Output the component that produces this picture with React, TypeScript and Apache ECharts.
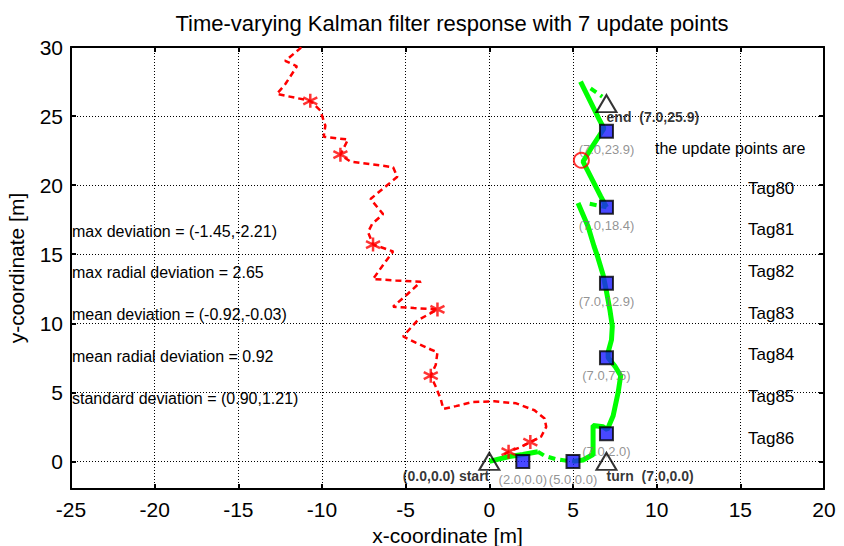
import React, { useEffect, useRef } from "react";
import * as echarts from "echarts";

const FONT = "Liberation Sans, Arial, sans-serif";

const titleText = "Time-varying Kalman filter response with 7 update points";
const xAxisName = "x-coordinate [m]";
const yAxisName = "y-coordinate [m]";

// estimated track (solid green segments)
const greenSolidA = [[0, 0], [1.2, 0.35], [2.0, 0.5], [2.9, 0.7]];
const greenSolidB = [
  [5, 0], [5.6, 0.1], [6.2, 0.5], [6.2, 2.6], [6.8, 2.5], [7.05, 2.3], [7.4, 3.3],
  [7.7, 5.0], [7.85, 6.2], [7.5, 6.9], [7.1, 7.5], [7.1, 7.9], [7.3, 8.8], [7.35, 9.8],
  [7.2, 11.0], [7.0, 12.3], [6.8, 13.5], [6.45, 14.9], [6.25, 15.6], [5.9, 17.0], [5.3, 18.7],
];
const greenSolidC = [[7.0, 18.4], [6.65, 19.2], [5.6, 21.7], [6.05, 22.6], [6.85, 24.1], [6.55, 24.8], [5.45, 27.5]];
// dashed green bits
const greenDashA = [[2.9, 0.7], [3.3, 0.4], [4.0, 0.15], [5.0, 0]];
const greenDashB = [[6.0, 18.65], [7.0, 18.4]];
const greenDashC = [[6.05, 27.0], [6.75, 26.4]];

// dead-reckoning track (red dashed)
const redTrack = [
  [0.9, 0.5], [1.15, 0.7], [1.8, 1.0], [2.45, 1.4], [3.1, 1.8], [3.4, 2.5], [3.3, 3.1],
  [2.7, 3.7], [1.6, 4.2], [0.3, 4.35], [-1.0, 4.3], [-2.0, 4.0], [-2.75, 3.8], [-2.9, 4.5],
  [-3.2, 5.4], [-3.5, 6.2], [-3.2, 7.0], [-3.1, 7.9], [-3.5, 8.1], [-4.4, 8.6], [-5.15, 9.05],
  [-4.3, 10.2], [-3.1, 11.0], [-4.5, 11.1], [-5.75, 11.2], [-4.9, 12.1], [-4.1, 13.0],
  [-5.6, 13.1], [-6.95, 13.2], [-6.3, 14.3], [-5.75, 15.2], [-6.95, 15.7], [-7.25, 16.6],
  [-7.0, 17.2], [-6.35, 17.9], [-7.1, 19.0], [-6.2, 19.9], [-5.5, 20.6], [-5.75, 21.3],
  [-7.0, 21.5], [-8.3, 21.7], [-8.9, 22.2], [-8.45, 23.3], [-9.9, 23.5], [-9.8, 24.3],
  [-10.1, 25.4], [-10.7, 26.1], [-12.7, 26.6], [-12.2, 27.3], [-11.5, 28.6], [-12.2, 29.0],
  [-11.3, 29.9], [-11.0, 30.5],
];
const redStars = [[1.15, 0.7], [2.45, 1.4], [-3.5, 6.2], [-3.1, 11.0], [-6.95, 15.7], [-8.9, 22.2], [-10.7, 26.1]];

const updatePoints = [[2, 0], [5, 0], [7, 2], [7, 7.5], [7, 12.9], [7, 18.4], [7, 23.9]];
const updateLabels = ["(2.0,0.0)", "(5.0,0.0)", "(7.0,2.0)", "(7.0,7.5)", "(7.0,12.9)", "(7.0,18.4)", "(7.0,23.9)"];

const keyPoints = [[0, 0], [7, 0], [7, 25.9]];
const keyLabels = ["(0.0,0.0) start", "turn  (7.0,0.0)", "end  (7.0,25.9)"];

const redCircle = [[5.5, 21.8]];

const statsTexts = [
  "max deviation = (-1.45,-2.21)",
  "max radial deviation = 2.65",
  "mean deviation = (-0.92,-0.03)",
  "mean radial deviation = 0.92",
  "standard deviation = (0.90,1.21)",
];
const tagHeader = "the update points are";
const tagNames = ["Tag80", "Tag81", "Tag82", "Tag83", "Tag84", "Tag85", "Tag86"];

const asterisk = "path://M0,-10L0,10M-8.7,-5L8.7,5M-8.7,5L8.7,-5";

export default function App() {
  const ref = useRef<HTMLDivElement>(null);
  useEffect(() => {
    if (!ref.current) return;
    const chart = echarts.init(ref.current, null, { renderer: "svg" });

    const greenLine = (data: number[][], dashed: boolean) => ({
      type: "line",
      data,
      symbol: "none",
      silent: true,
      lineStyle: { color: "#00ff00", width: dashed ? 4 : 5, type: dashed ? [7, 5] : "solid" },
      z: 3,
    });

    const keyLabelCfg = [
      { position: "left", distance: 0, offset: [11, 15] },
      { position: "right", distance: 0, offset: [-11, 15] },
      { position: "right", distance: 0, offset: [-11, 13] },
    ];

    const axisCommonX = { type: "value", min: -25, max: 20, interval: 5 };
    const axisCommonY = { type: "value", min: -2, max: 30, splitNumber: 7 };
    const lineCfg = { show: true, onZero: false, lineStyle: { color: "#000", width: 2 } };
    const tickCfg = { show: true, inside: true, length: 5, lineStyle: { color: "#000", width: 2 } };

    const option: any = {
      animation: false,
      backgroundColor: "#ffffff",
      title: {
        text: titleText,
        left: 447,
        textAlign: "center",
        top: 7,
        textStyle: { fontFamily: FONT, fontSize: 22, fontWeight: "normal", color: "#000" },
      },
      grid: { left: 71, right: 20, top: 47, bottom: 57, containLabel: false, outerBoundsMode: "none" },
      xAxis: [
        {
          ...axisCommonX,
          position: "bottom",
          name: xAxisName,
          nameLocation: "middle",
          nameGap: 31,
          nameTextStyle: { fontFamily: FONT, fontSize: 21, color: "#000" },
          axisLine: lineCfg,
          axisTick: tickCfg,
          axisLabel: { fontFamily: FONT, fontSize: 21, color: "#000", margin: 10 },
          splitLine: { show: true, lineStyle: { color: "#000", width: 1, type: [1, 2] } },
        },
        {
          ...axisCommonX,
          position: "top",
          axisLine: lineCfg,
          axisTick: tickCfg,
          axisLabel: { show: false },
          splitLine: { show: false },
        },
      ],
      yAxis: [
        {
          ...axisCommonY,
          position: "left",
          name: yAxisName,
          nameLocation: "middle",
          nameGap: 44,
          nameTextStyle: { fontFamily: FONT, fontSize: 21, color: "#000" },
          axisLine: lineCfg,
          axisTick: tickCfg,
          axisLabel: {
            fontFamily: FONT,
            fontSize: 21,
            color: "#000",
            margin: 8,
            showMinLabel: false,
            formatter: (v: number) => (v % 5 === 0 ? String(v) : ""),
          },
          splitLine: { show: true, lineStyle: { color: "#000", width: 1, type: [1, 2] } },
        },
        {
          ...axisCommonY,
          position: "right",
          axisLine: lineCfg,
          axisTick: tickCfg,
          axisLabel: { show: false },
          splitLine: { show: false },
        },
      ],
      series: [
        greenLine(greenSolidA, false),
        greenLine(greenSolidB, false),
        greenLine(greenSolidC, false),
        greenLine(greenDashA, true),
        greenLine(greenDashB, true),
        greenLine(greenDashC, true),
        {
          type: "line",
          data: redTrack,
          symbol: "none",
          silent: true,
          lineStyle: { color: "#ff0000", width: 2.5, type: [6, 4] },
          z: 2,
        },
        {
          type: "scatter",
          data: redStars,
          symbol: asterisk,
          symbolSize: 14,
          itemStyle: { color: "#ff0000", borderColor: "#ff0000", borderWidth: 2.5 },
          z: 4,
        },
        {
          type: "scatter",
          data: updatePoints.map((p, i) => ({ value: p, name: updateLabels[i] })),
          symbol: "rect",
          symbolSize: 13,
          itemStyle: { color: "#1a1aff", borderColor: "#000", borderWidth: 2 },
          label: {
            show: true,
            position: "bottom",
            distance: 4,
            formatter: (p: any) => p.name,
            fontFamily: FONT,
            fontSize: 13,
            color: "#777",
          },
          z: 5,
        },
        {
          type: "scatter",
          data: keyPoints.map((p, i) => ({
            value: p,
            name: keyLabels[i],
            label: { ...keyLabelCfg[i], color: "#000" },
          })),
          symbol: "triangle",
          symbolSize: [20, 17],
          itemStyle: { color: "rgba(255,255,255,0)", borderColor: "#000", borderWidth: 2 },
          label: {
            show: true,
            formatter: (p: any) => p.name,
            fontFamily: FONT,
            fontSize: 14,
            fontWeight: "bold",
            color: "#000",
          },
          z: 6,
        },
        {
          type: "scatter",
          data: redCircle,
          symbol: "circle",
          symbolSize: 15,
          itemStyle: { color: "rgba(255,255,255,0)", borderColor: "#ff0000", borderWidth: 2 },
          z: 6,
        },
      ],
      graphic: [
        ...statsTexts.map((t, i) => ({
          type: "text",
          x: 72,
          y: 231 + i * 41.8,
          style: { text: t, font: `16px ${FONT}`, fill: "#000", verticalAlign: "middle", align: "left" },
          z: 10,
        })),
        {
          type: "text",
          x: 655,
          y: 148,
          style: { text: tagHeader, font: `16px ${FONT}`, fill: "#000", verticalAlign: "middle", align: "left" },
          z: 10,
        },
        ...tagNames.map((t, i) => ({
          type: "text",
          x: 748,
          y: 188 + i * 41.7,
          style: { text: t, font: `17px ${FONT}`, fill: "#000", verticalAlign: "middle", align: "left" },
          z: 10,
        })),
      ],
    };
    chart.setOption(option);
    return () => chart.dispose();
  }, []);
  return <div ref={ref} style={{ width: 844, height: 546, position: "absolute", left: 0, top: 0 }} />;
}
